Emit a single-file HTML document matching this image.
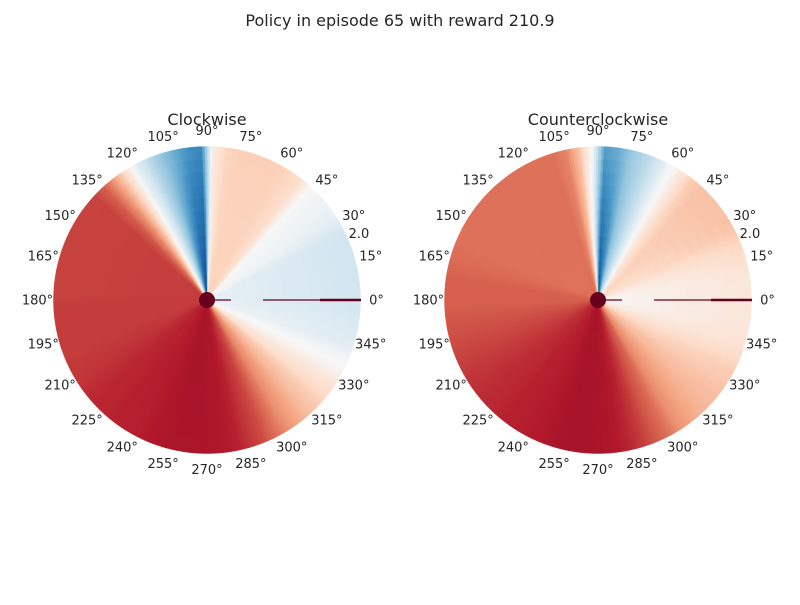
<!DOCTYPE html>
<html><head><meta charset="utf-8"><style>
body{margin:0;background:#fff;}
svg text{font-family:"DejaVu Sans","Liberation Sans",sans-serif;fill:#262626;}
</style></head><body>
<svg id="fig" width="800" height="600" viewBox="0 0 800 600">
<rect width="800" height="600" fill="#fff"/>
<text x="400" y="26" font-size="16" text-anchor="middle">Policy in episode 65 with reward 210.9</text>
<g id="p0"></g>
<g id="p1"></g>
</svg>
<script>
// angle bins: 72 bins of 5 degrees (value at bin centre); values in [-1,1] on RdBu_r
const leftInner = [-0.08,-0.08,-0.08,-0.08,-0.08,-0.08,-0.03,-0.02,-0.02,0.0,0.15,0.2,0.22,0.22,0.22,0.22,0.2,0.05,-0.92,-0.85,-0.6,-0.35,-0.15,0.05,0.35,0.55,0.65,
0.7,0.7,0.7,0.7,0.7,0.7,0.7,0.7,0.7,0.7,0.7,0.7,0.7,0.71,0.72,0.74,0.76,0.77,0.78,0.78,0.79,0.8,0.8,
0.82,0.83,0.83,0.83,0.82,0.81,0.79,0.74,0.7,0.62,0.5,0.45,0.35,0.28,0.15,0.1,0.02,0.0,-0.05,-0.06,-0.07,-0.08];
const leftOuter = [-0.2,-0.2,-0.2,-0.2,-0.2,-0.18,-0.1,-0.06,-0.04,0.0,0.18,0.22,0.24,0.24,0.24,0.24,0.22,0.1,-0.65,-0.6,-0.5,-0.4,-0.28,-0.12,0.15,0.4,0.6,
0.68,0.68,0.68,0.68,0.68,0.68,0.68,0.68,0.68,0.7,0.7,0.7,0.7,0.7,0.71,0.72,0.74,0.76,0.76,0.78,0.78,0.78,0.8,
0.81,0.82,0.82,0.82,0.81,0.8,0.77,0.71,0.65,0.55,0.45,0.38,0.3,0.25,0.18,0.12,0.02,-0.03,-0.12,-0.14,-0.16,-0.18];
const rightInner = [0.02,0.02,0.03,0.05,0.1,0.15,0.15,0.18,0.2,0.2,0.15,0.1,-0.05,-0.2,-0.3,-0.45,-0.7,-0.92,-0.3,0.3,0.5,
0.55,0.55,0.55,0.55,0.55,0.55,0.55,0.55,0.55,0.55,0.55,0.56,0.58,0.6,0.6,0.6,0.62,0.64,0.66,0.68,0.7,0.72,0.74,0.75,0.76,0.78,0.78,0.79,0.8,
0.82,0.83,0.83,0.83,0.82,0.8,0.78,0.72,0.65,0.6,0.5,0.45,0.4,0.32,0.28,0.22,0.18,0.12,0.08,0.05,0.03,0.02];
const rightOuter = [0.12,0.12,0.14,0.18,0.22,0.28,0.3,0.3,0.3,0.3,0.25,0.1,-0.05,-0.2,-0.3,-0.38,-0.5,-0.55,0.0,0.3,0.5,
0.55,0.55,0.55,0.55,0.55,0.55,0.55,0.55,0.55,0.55,0.55,0.56,0.58,0.6,0.6,0.6,0.62,0.64,0.66,0.68,0.7,0.72,0.74,0.75,0.76,0.78,0.78,0.79,0.8,
0.82,0.83,0.83,0.83,0.82,0.8,0.76,0.7,0.62,0.55,0.45,0.4,0.35,0.32,0.3,0.27,0.25,0.2,0.15,0.13,0.12,0.12];
const tickAngles = [0,15,30,45,60,75,90,105,120,135,150,165,180,195,210,225,240,255,270,285,300,315,330,345];
const titles = ["Clockwise","Counterclockwise"];

const stops=["#053061","#2166ac","#4393c3","#92c5de","#d1e5f0","#f7f7f7","#fddbc7","#f4a582","#d6604d","#b2182b","#67001f"];
function hex(h){return [1,3,5].map(i=>parseInt(h.substr(i,2),16));}
function cmap(v){let t=(Math.max(-1,Math.min(1,v))+1)/2*10;let i=Math.min(9,Math.floor(t));let f=t-i;
 const a=hex(stops[i]),b=hex(stops[i+1]);return "rgb("+a.map((x,j)=>Math.round(x+(b[j]-x)*f)).join(",")+")";}
const NS="http://www.w3.org/2000/svg";
const R=153.5;
function mk(tag,attrs,parent){const e=document.createElementNS(NS,tag);for(const k in attrs)e.setAttribute(k,attrs[k]);parent.appendChild(e);return e;}
function pt(cx,cy,r,deg){const a=deg*Math.PI/180;return [cx+r*Math.cos(a),cy-r*Math.sin(a)];}
function wedge(cx,cy,r0,r1,a0,a1){const p1=pt(cx,cy,r0,a0),p2=pt(cx,cy,r1,a0),p3=pt(cx,cy,r1,a1),p4=pt(cx,cy,r0,a1);
 return `M${p1}L${p2}A${r1},${r1} 0 0 0 ${p3}L${p4}`+(r0>0?`A${r0},${r0} 0 0 1 ${p1}`:"")+"Z";}
function valAt(arr,deg){const n=arr.length,step=360/n;let x=deg/step-0.5;let i=Math.floor(x),f=x-i;
 const a=arr[(i%n+n)%n],b=arr[((i+1)%n+n)%n];return a+(b-a)*f;}
function draw(id,cx,cy,inner,outer,title){
 const g=document.getElementById(id);
 const rings=12, sub=1;
 for(let d=0;d<360;d+=sub){
  const vi=valAt(inner,d+sub/2), vo=valAt(outer,d+sub/2);
  for(let j=0;j<rings;j++){
   const f=(j+0.5)/rings;
   const v=vi+(vo-vi)*f;
   const col=cmap(v);
   const w=mk("path",{d:wedge(cx,cy,R*j/rings,R*(j+1)/rings,d-0.1,d+sub+0.1),fill:col,stroke:col,"stroke-width":0.4},g);
   
   
  }
 }
 tickAngles.forEach(a=>{const p=pt(cx,cy,R+16,a);
  const t=mk("text",{x:p[0],y:p[1]+4.5,"font-size":13,"text-anchor":"middle"},g);t.textContent=a+"°";
  
  });
 const rl=mk("text",{x:cx+152,y:cy-62,"font-size":13,"text-anchor":"middle"},g);rl.textContent="2.0";
 
 
 const tt=mk("text",{x:cx,y:cy-175,"font-size":16,"text-anchor":"middle"},g);tt.textContent=title;
 
 
 const c="#67001f";
 const l1=mk("line",{x1:cx,y1:cy,x2:cx+24,y2:cy,stroke:c,"stroke-width":1.3},g);
 
 const l2=mk("line",{x1:cx+56,y1:cy,x2:cx+113,y2:cy,stroke:c,"stroke-width":1.3},g);
 
 const l3=mk("line",{x1:cx+113,y1:cy,x2:cx+154,y2:cy,stroke:c,"stroke-width":2.5},g);
 
 const d=mk("circle",{cx:cx,cy:cy,r:8,fill:c},g);
 
}
draw("p0",207,300,leftInner,leftOuter,titles[0]);
draw("p1",598,300,rightInner,rightOuter,titles[1]);
</script>
</body></html>
